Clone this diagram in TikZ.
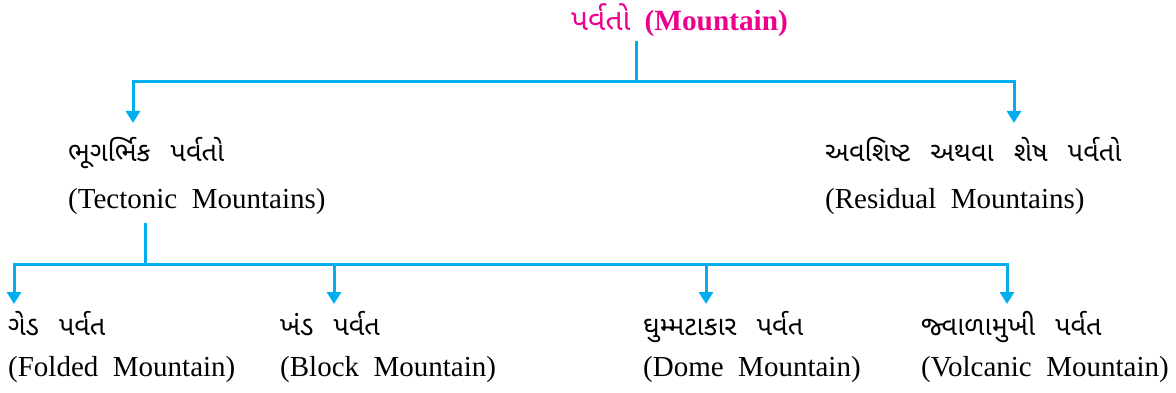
\documentclass[tikz,border=0pt]{standalone}
\usepackage{fontspec}
\setmainfont{Liberation Serif}[WordSpace=2]
\newfontfamily\guj[Script=Gujarati,WordSpace=2.5]{Noto Sans Gujarati UI}
\usetikzlibrary{arrows.meta}
\definecolor{linkblue}{RGB}{0,174,239}
\definecolor{headpink}{RGB}{236,0,140}
\tikzset{
  link/.style={draw=linkblue, line width=3pt},
  arr/.style={link, -{Triangle[width=14pt,length=12pt]}},
  gu/.style={anchor=base west, inner sep=0pt, font=\guj\fontsize{27}{32}\selectfont},
  en/.style={anchor=base west, inner sep=0pt, font=\fontsize{29}{34}\selectfont},
}
\begin{document}
\begin{tikzpicture}[x=1pt,y=-1pt]
\useasboundingbox (0,0) rectangle (1176,393);
% heading
\node[anchor=base west, inner sep=0pt, text=headpink] (title) at (571,31)
  {{\guj\fontsize{30}{34}\selectfont પર્વતો}\hspace{14pt}{\fontsize{29.3}{34}\selectfont\bfseries (Mountain)}};
% second level
\node[gu] (tectg) at (68,162) {ભૂગર્ભિક પર્વતો};
\node[en] (tecte) at (68,208) {(Tectonic Mountains)};
\node[gu] (resg) at (825,162) {અવશિષ્ટ અથવા શેષ પર્વતો};
\node[en] (rese) at (825,208) {(Residual Mountains)};
% third level
\node[gu] (foldg) at (8,335) {ગેડ પર્વત};
\node[en] (folde) at (8,376) {(Folded Mountain)};
\node[gu] (blockg) at (280,335) {ખંડ પર્વત};
\node[en] (blocke) at (280,376) {(Block Mountain)};
\node[gu] (domeg) at (643,335) {ઘુમ્મટાકાર પર્વત};
\node[en] (domee) at (643,376) {(Dome Mountain)};
\node[gu] (volcg) at (921,335) {જ્વાળામુખી પર્વત};
\node[en] (volce) at (921,376) {(Volcanic Mountain)};
% junctions and arrow tips
\coordinate (hubA) at (636,82);
\coordinate (tipT) at (133,123);
\coordinate (tipR) at (1014,123);
\coordinate (hubB) at (145,264);
\coordinate (tipF) at (14,304);
\coordinate (tipB) at (334,304);
\coordinate (tipD) at (706,304);
\coordinate (tipV) at (1007,304);
% connectors
\draw[link] (title.south -| hubA) ++(0,4) -- (hubA);
\draw[arr] (hubA) -| (tipT);
\draw[arr] (hubA) -| (tipR);
\draw[link] (tecte.south -| hubB) ++(0,9) -- (hubB);
\draw[arr] (hubB) -| (tipF);
\draw[arr] (hubB) -| (tipB);
\draw[arr] (hubB) -| (tipD);
\draw[arr] (hubB) -| (tipV);
\end{tikzpicture}
\end{document}
